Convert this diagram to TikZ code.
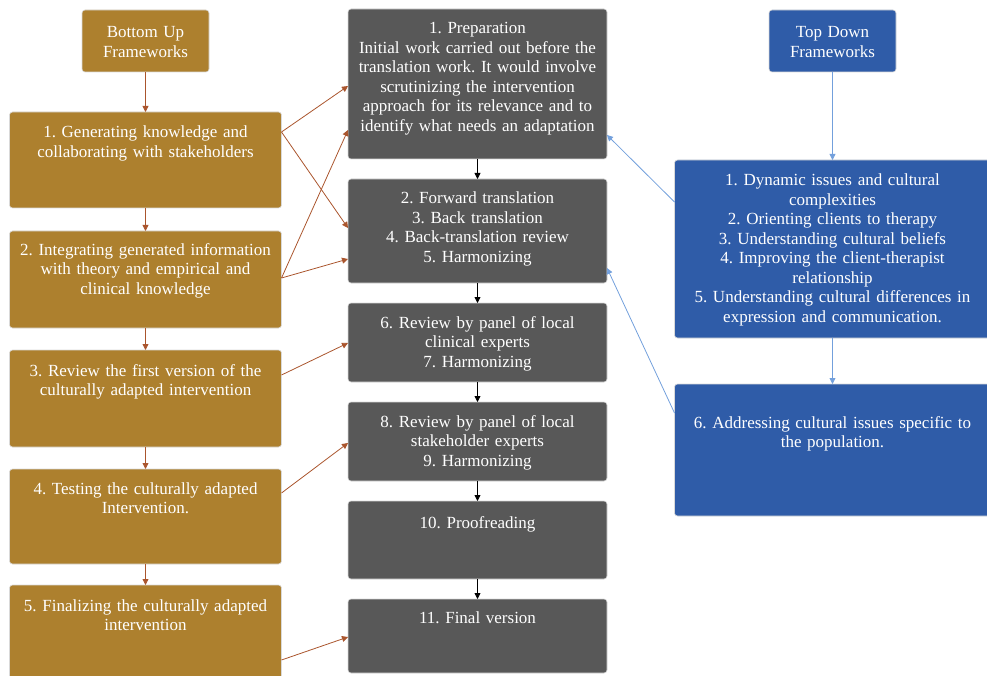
\documentclass[tikz,border=0pt]{standalone}
\usepackage{fontspec}
\setmainfont{Liberation Serif}
\usepackage{xcolor}
\usepackage{tikz}
\usetikzlibrary{arrows.meta,positioning}

\definecolor{gold}{RGB}{173,128,46}
\definecolor{slate}{RGB}{88,88,88}
\definecolor{royal}{RGB}{47,92,168}
\definecolor{rust}{RGB}{170,85,45}
\definecolor{sky}{RGB}{115,160,220}

\begin{document}
\frenchspacing
\begin{tikzpicture}[
  x=1pt, y=-1pt,
  font=\fontsize{17}{19.5}\selectfont,
  node distance=20pt,
  box/.style={draw=white!85!black, line width=0.6pt, rounded corners=3pt, text=white, align=center, inner xsep=5pt, inner ysep=0pt, outer sep=0pt, anchor=north},
  head/.style={box, text width=117pt, text height=28pt, text depth=34pt},
  left/.style={box, fill=gold, text width=262pt, text height=26pt, text depth=#1},
  mid/.style={box, fill=slate, text width=249pt, text height=25pt, text depth=#1},
  right/.style={box, fill=royal, text width=306pt, text height=26pt, text depth=#1},
  rarrow/.style={-{Triangle[length=6pt,width=6pt]}, rust, line width=0.8pt},
  marrow/.style={-{Triangle[length=6pt,width=6pt]}, black, line width=0.8pt},
  barrow/.style={-{Triangle[length=6pt,width=6pt]}, sky, line width=0.8pt}
]
\useasboundingbox (0,0) rectangle (987,676);

\node[head, fill=gold] (bu) at (145.5,10) {Bottom Up\\Frameworks};
\node[left=70pt, below=40pt of bu] (lb1) {1. Generating knowledge and\\collaborating with stakeholders};
\node[left=73pt, text height=24pt, below=23pt of lb1] (lb2) {2. Integrating generated information\\with theory and empirical and\\clinical knowledge};
\node[left=71pt, below=22pt of lb2] (lb3) {3. Review the first version of the\\culturally adapted intervention};
\node[left=70pt, text height=25pt, below=22pt of lb3] (lb4) {4. Testing the culturally adapted\\Intervention.};
\node[left=75pt, below=21pt of lb4] (lb5) {5. Finalizing the culturally adapted\\intervention};

\node[mid=125pt] (mb1) at (477.5,9) {1. Preparation\\Initial work carried out before the\\translation work. It would involve\\scrutinizing the intervention\\approach for its relevance and to\\identify what needs an adaptation};
\node[mid=79pt, below=of mb1] (mb2) {2. Forward translation\\3. Back translation\\4. Back-translation review\\5. Harmonizing};
\node[mid=54pt, below=of mb2] (mb3) {6. Review by panel of local\\clinical experts\\7. Harmonizing};
\node[mid=54pt, below=of mb3] (mb4) {8. Review by panel of local\\stakeholder experts\\9. Harmonizing};
\node[mid=51pt, text height=27pt, below=of mb4] (mb5) {10. Proofreading};
\node[mid=50pt, text height=24pt, below=of mb5] (mb6) {11. Final version};

\node[head, fill=royal] (td) at (832.5,10) {Top Down\\Frameworks};
\node[right=152pt, below=88pt of td] (rb1) {1. Dynamic issues and cultural\\complexities\\2. Orienting clients to therapy\\3. Understanding cultural beliefs\\4. Improving the client-therapist\\relationship\\5. Understanding cultural differences in\\expression and communication.};
\node[right=88pt, text height=44pt, below=46pt of rb1] (rb2) {6. Addressing cultural issues specific to\\the population.};

\draw[rarrow] (bu) -- (lb1);
\draw[rarrow] (lb1) -- (lb2);
\draw[rarrow] (lb2) -- (lb3);
\draw[rarrow] (lb3) -- (lb4);
\draw[rarrow] (lb4) -- (lb5);

\draw[marrow] (mb1) -- (mb2);
\draw[marrow] (mb2) -- (mb3);
\draw[marrow] (mb3) -- (mb4);
\draw[marrow] (mb4) -- (mb5);
\draw[marrow] (mb5) -- (mb6);

\draw[barrow] (td) -- (rb1);
\draw[barrow] (rb1) -- (rb2);

\draw[rarrow] ([yshift=-20pt]lb1.north east) -- ([yshift=-77pt]mb1.north west);
\draw[rarrow] ([yshift=-20pt]lb1.north east) -- ([yshift=-49pt]mb2.north west);
\draw[rarrow] ([yshift=-47pt]lb2.north east) -- ([yshift=-121pt]mb1.north west);
\draw[rarrow] ([yshift=-47pt]lb2.north east) -- ([yshift=-80pt]mb2.north west);
\draw[rarrow] ([yshift=-25pt]lb3.north east) -- ([yshift=-40pt]mb3.north west);
\draw[rarrow] ([yshift=-24pt]lb4.north east) -- ([yshift=-41pt]mb4.north west);
\draw[rarrow] ([yshift=-75pt]lb5.north east) -- ([yshift=-38pt]mb6.north west);
\draw[barrow] ([yshift=-42pt]rb1.north west) -- ([yshift=-126pt]mb1.north east);
\draw[barrow] ([yshift=-29pt]rb2.north west) -- ([yshift=-89pt]mb2.north east);
\end{tikzpicture}
\end{document}
